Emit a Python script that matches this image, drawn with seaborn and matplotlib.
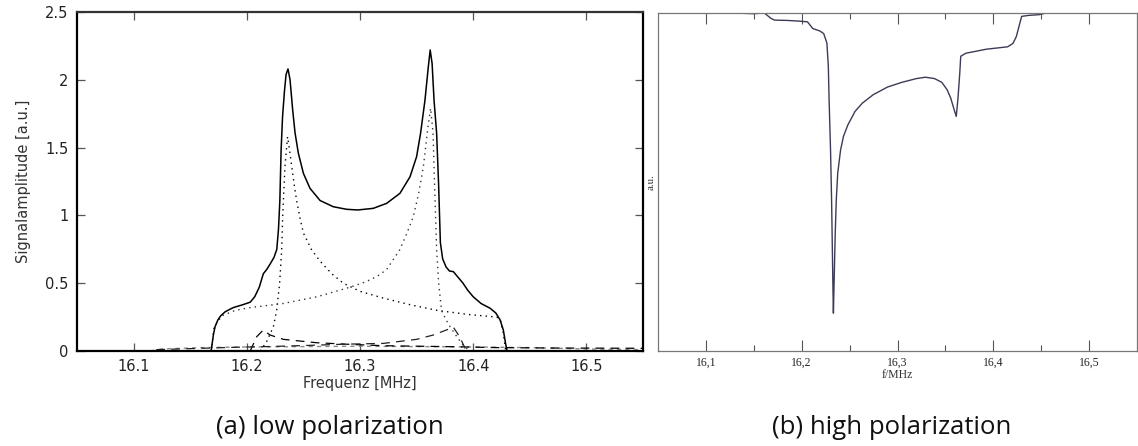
import numpy as np
import pandas as pd
import matplotlib
matplotlib.use("Agg")
import matplotlib.pyplot as plt
from matplotlib.ticker import FixedLocator, FixedFormatter
import seaborn as sns

# ---------------- data: panel (a) low polarization ----------------
total_x = [16.05, 16.1685, 16.1695, 16.1705, 16.172, 16.1745, 16.177, 16.181, 16.188, 16.196,
           16.203, 16.207, 16.211, 16.2146, 16.2175, 16.2205, 16.2240, 16.2265, 16.2280, 16.2292,
           16.2303, 16.2316, 16.2333, 16.2347, 16.2364, 16.2382, 16.2405, 16.2426, 16.2455, 16.2500,
           16.2558, 16.2647, 16.2764, 16.2882, 16.2980, 16.3117, 16.3236, 16.3353, 16.3442, 16.3500,
           16.3535, 16.3574, 16.3604, 16.3620, 16.3637, 16.3654, 16.3677, 16.3694, 16.3710, 16.3730,
           16.3760, 16.3790, 16.3825, 16.3860, 16.3910, 16.3950, 16.4000, 16.4070, 16.4150, 16.4200,
           16.4237, 16.4266, 16.4287, 16.4300, 16.55]
total_y = [0.0, 0.0, 0.06, 0.12, 0.18, 0.23, 0.26, 0.29, 0.32, 0.34,
           0.36, 0.40, 0.47, 0.57, 0.60, 0.64, 0.69, 0.75, 0.90, 1.11,
           1.48, 1.73, 1.92, 2.04, 2.08, 2.00, 1.78, 1.61, 1.46, 1.31,
           1.20, 1.11, 1.064, 1.045, 1.04, 1.052, 1.089, 1.163, 1.285, 1.433,
           1.605, 1.85, 2.10, 2.22, 2.12, 1.85, 1.605, 1.237, 0.80, 0.68,
           0.62, 0.59, 0.585, 0.55, 0.50, 0.45, 0.40, 0.35, 0.315, 0.28,
           0.23, 0.155, 0.05, 0.0, 0.0]

dot_left_x = [16.212, 16.2176, 16.2235, 16.2264, 16.2290, 16.2308, 16.2317, 16.2337, 16.2360,
              16.2375, 16.2397, 16.2420, 16.2440, 16.2470, 16.2500, 16.2573, 16.2650, 16.2750,
              16.2852, 16.3000, 16.3206, 16.3450, 16.3677, 16.3950, 16.4208, 16.4240, 16.4265,
              16.4287]
dot_left_y = [0.0, 0.07, 0.18, 0.30, 0.50, 0.745, 0.99, 1.36, 1.58,
              1.50, 1.36, 1.22, 1.11, 0.98, 0.87, 0.745, 0.66, 0.57,
              0.50, 0.44, 0.39, 0.34, 0.30, 0.27, 0.25, 0.23, 0.14,
              0.0]

dot_right_x = [16.168, 16.1695, 16.171, 16.174, 16.178, 16.190, 16.203, 16.232, 16.262, 16.291,
               16.305, 16.315, 16.3235, 16.3290, 16.3350, 16.3410, 16.3471, 16.3520, 16.3560,
               16.3600, 16.3624, 16.3645, 16.3663, 16.3677, 16.3695, 16.372, 16.3760, 16.3795,
               16.386, 16.391, 16.397]
dot_right_y = [0.0, 0.06, 0.18, 0.21, 0.26, 0.30, 0.32, 0.35, 0.40, 0.47,
               0.51, 0.55, 0.60, 0.67, 0.745, 0.86, 0.99, 1.17, 1.36,
               1.65, 1.79, 1.61, 1.11, 0.745, 0.50, 0.30, 0.23, 0.18,
               0.10, 0.044, 0.0]

dash_left_x = [16.203, 16.2087, 16.2146, 16.2205, 16.2323, 16.2617, 16.2912, 16.3206, 16.3795,
               16.4208, 16.470, 16.550]
dash_left_y = [0.0, 0.105, 0.155, 0.118, 0.086, 0.061, 0.049, 0.039, 0.032,
               0.025, 0.022, 0.02]

dash_right_x = [16.120, 16.188, 16.220, 16.250, 16.285, 16.3206, 16.350, 16.3648, 16.3825,
                16.388, 16.394]
dash_right_y = [0.01, 0.027, 0.033, 0.040, 0.050, 0.056, 0.086, 0.118, 0.175,
                0.105, 0.0]

gray_x = [16.115, 16.125, 16.160, 16.200, 16.300, 16.400, 16.450, 16.500, 16.550]
gray_y = [0.0, 0.015, 0.025, 0.030, 0.035, 0.030, 0.025, 0.015, 0.01]

base_x = [16.05, 16.12]
base_y = [0.0, 0.0]

a_xticks = [16.1, 16.2, 16.3, 16.4, 16.5]
a_xticklabels = ["16.1", "16.2", "16.3", "16.4", "16.5"]
a_yticks = [0, 0.5, 1, 1.5, 2, 2.5]
a_yticklabels = ["0", "0.5", "1", "1.5", "2", "2.5"]

# ---------------- data: panel (b) high polarization ----------------
b_x = [16.139, 16.150, 16.161, 16.168, 16.1716, 16.185, 16.197, 16.206, 16.2116, 16.2188,
       16.223, 16.2263, 16.2278, 16.2286, 16.2301, 16.2312, 16.2320, 16.2327, 16.2331, 16.2338,
       16.2350, 16.2361, 16.2376, 16.2406, 16.2436, 16.2482, 16.2557, 16.2632, 16.2745, 16.2896,
       16.3047, 16.3198, 16.3292, 16.3386, 16.3462, 16.3518, 16.3556, 16.3586, 16.3613, 16.3630,
       16.3650, 16.3660, 16.3714, 16.393, 16.415, 16.4205, 16.424, 16.4296, 16.437, 16.4477,
       16.455]
b_y = [0.999, 0.998, 1.0, 0.984, 0.979, 0.978, 0.976, 0.974, 0.954, 0.947,
       0.939, 0.911, 0.842, 0.743, 0.595, 0.447, 0.299, 0.171, 0.112, 0.20,
       0.348, 0.447, 0.526, 0.595, 0.635, 0.669, 0.709, 0.733, 0.758, 0.781,
       0.795, 0.806, 0.810, 0.806, 0.795, 0.773, 0.748, 0.719, 0.694, 0.743,
       0.822, 0.872, 0.881, 0.893, 0.900, 0.910, 0.930, 0.990, 0.993, 0.995,
       1.0]

b_xticks = [16.1, 16.2, 16.3, 16.4, 16.5]
b_xticklabels = ["16,1", "16,2", "16,3", "16,4", "16,5"]
b_xminor = [16.15, 16.25, 16.35, 16.45]

# ---------------- figure ----------------
sns.set_theme(style="white")
plt.rcParams["font.family"] = ["DejaVu Sans"]

W, H = 1138, 446
fig = plt.figure(figsize=(W / 100, H / 100), dpi=100)
fig.patch.set_facecolor("white")

axA = fig.add_axes([77 / W, 1 - 351 / H, (643 - 77) / W, (351 - 12) / H])
axB = fig.add_axes([658 / W, 1 - 351 / H, (1137 - 658) / W, (351 - 13) / H])

def line(ax, xs, ys, **kw):
    df = pd.DataFrame({"x": xs, "y": ys})
    sns.lineplot(data=df, x="x", y="y", ax=ax, sort=False, estimator=None, **kw)

# panel a
line(axA, base_x, base_y, color="black", lw=1.0, linestyle=(0, (1, 1)))
line(axA, gray_x, gray_y, color="#8a8a8a", lw=1.0, linestyle=(0, (3, 3)))
line(axA, dash_left_x, dash_left_y, color="black", lw=0.9, linestyle=(0, (7, 5)))
line(axA, dash_right_x, dash_right_y, color="#222222", lw=0.9, linestyle=(0, (7, 5)))
line(axA, dot_left_x, dot_left_y, color="black", lw=1.0, linestyle=(0, (1, 3)))
line(axA, dot_right_x, dot_right_y, color="#333333", lw=1.0, linestyle=(0, (1, 3)))
line(axA, total_x, total_y, color="black", lw=1.1)

axA.set_xlim(16.05, 16.55)
axA.set_ylim(0, 2.5)
axA.xaxis.set_major_locator(FixedLocator(a_xticks))
axA.xaxis.set_major_formatter(FixedFormatter(a_xticklabels))
axA.yaxis.set_major_locator(FixedLocator(a_yticks))
axA.yaxis.set_major_formatter(FixedFormatter(a_yticklabels))
axA.tick_params(axis="both", which="major", direction="in", length=6, width=0.9,
                color="#555555", top=True, right=True, bottom=True, left=True,
                labelsize=10.5, labelcolor="#222222", pad=6)
for s in axA.spines.values():
    s.set_color("black")
    s.set_linewidth(1.6)
axA.spines["top"].set_color("#333333")
axA.set_xlabel("Frequenz [MHz]", fontsize=10.5, color="#333333", labelpad=1)
axA.set_ylabel("Signalamplitude [a.u.]", fontsize=10.5, color="#333333", labelpad=10)

# panel b
serif = ["Liberation Serif", "DejaVu Serif"]
line(axB, b_x, b_y, color="#3b3b58", lw=1.0)
axB.set_xlim(16.05, 16.55)
axB.set_ylim(0, 1.0)
axB.xaxis.set_major_locator(FixedLocator(b_xticks))
axB.xaxis.set_major_formatter(FixedFormatter(b_xticklabels))
axB.xaxis.set_minor_locator(FixedLocator(b_xminor))
axB.set_yticks([])
axB.tick_params(axis="x", which="major", direction="in", length=8, width=0.8,
                color="#555555", top=True, bottom=True, labelsize=8.5, pad=4)
axB.tick_params(axis="x", which="minor", direction="in", length=4, width=0.8,
                color="#555555", top=True, bottom=True)
for lab in axB.get_xticklabels():
    lab.set_fontfamily(serif)
for s in axB.spines.values():
    s.set_color("#777777")
    s.set_linewidth(0.9)
axB.set_xlabel("f/MHz", fontsize=8.5, family=serif, color="#333333", labelpad=0)
axB.set_ylabel("a.u.", fontsize=8, family=serif, color="#333333", labelpad=2)

# captions
fig.text(330 / W, 1 - 427 / H, "(a) low polarization", ha="center", va="center",
         fontsize=18.5, family=["Open Sans", "DejaVu Sans"], color="#111111")
fig.text(892 / W, 1 - 427 / H, "(b) high polarization", ha="center", va="center",
         fontsize=18.5, family=["Open Sans", "DejaVu Sans"], color="#111111")

fig.savefig("out.png", dpi=100, facecolor="white")
